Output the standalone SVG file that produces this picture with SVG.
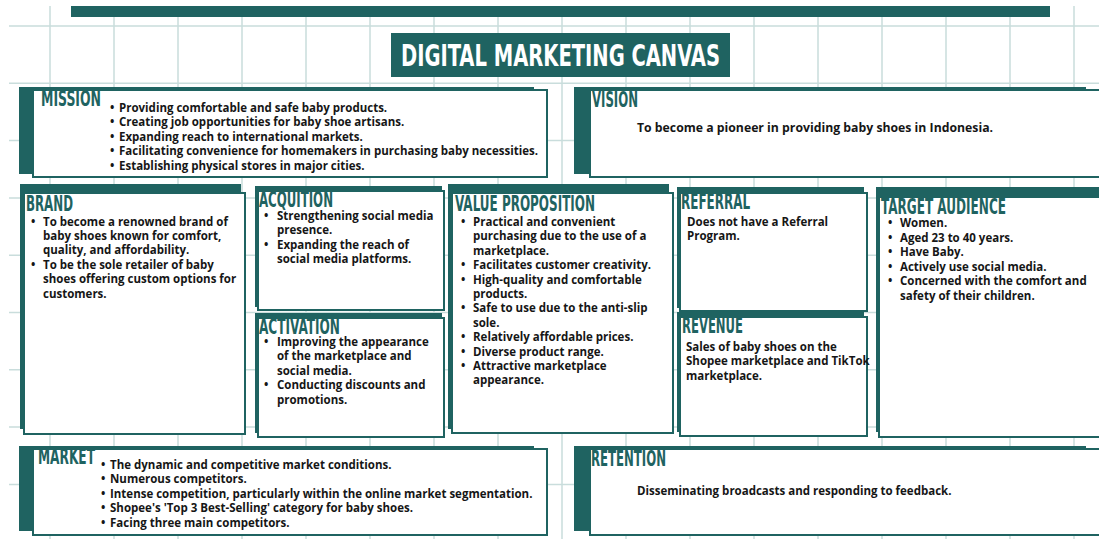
<svg xmlns="http://www.w3.org/2000/svg" width="1099" height="539" viewBox="0 0 1099 539">
<style>
.gl{stroke:#c9dddc;stroke-width:1.5;fill:none}
.sh{fill:#1f6361}
.bx{fill:#ffffff;stroke:#1f6361;stroke-width:2}
.hd{font-family:"Liberation Sans Narrow","DejaVu Sans Condensed",sans-serif;font-weight:bold;font-size:20.5px;fill:#1f6361}
.ti{font-family:"Liberation Sans Narrow","DejaVu Sans Condensed",sans-serif;font-weight:bold;font-size:31px;fill:#ffffff}
.tx{font-family:"Open Sans","DejaVu Sans",sans-serif;font-weight:700;font-size:11.5px;fill:#161616}
.big{font-size:12.25px}
</style>
<rect width="1099" height="539" fill="#ffffff"/>
<g id="grid" class="gl">
<path d="M50 6V539M114 6V539M178 6V539M242 6V539M306 6V539M370 6V539M434 6V539M498 6V539M562 6V539M626 6V539M690 6V539M754 6V539M818 6V539M882 6V539M946 6V539M1010 6V539M1074 6V539"/>
<path d="M9 26H1099M9 83.3H1099M9 140.6H1099M9 198H1099M9 255.2H1099M9 312.5H1099M9 369.8H1099M9 427H1099M9 484.4H1099"/>
</g>
<g id="header">
<rect class="sh" x="71" y="6" width="979" height="11"/>
<rect class="sh" x="391" y="33" width="339" height="44"/>
<text class="ti" x="401" y="66" textLength="319" lengthAdjust="spacingAndGlyphs">DIGITAL MARKETING CANVAS</text>
</g>
<g id="connectors"></g>
<g id="mission">
<rect class="sh" x="19" y="87" width="515" height="87"/>
<rect class="bx" x="33" y="90" width="514" height="87"/>
<text class="hd" x="41" y="106" textLength="60" lengthAdjust="spacingAndGlyphs">MISSION</text>
<text class="tx"><tspan x="110" y="112">•</tspan><tspan x="119" y="112">Providing comfortable and safe baby products.</tspan><tspan x="110" y="126.4">•</tspan><tspan x="119" y="126.4">Creating job opportunities for baby shoe artisans.</tspan><tspan x="110" y="140.8">•</tspan><tspan x="119" y="140.8">Expanding reach to international markets.</tspan><tspan x="110" y="155.2">•</tspan><tspan x="119" y="155.2">Facilitating convenience for homemakers in purchasing baby necessities.</tspan><tspan x="110" y="169.6">•</tspan><tspan x="119" y="169.6">Establishing physical stores in major cities.</tspan></text>
</g>
<g id="vision">
<rect class="sh" x="574" y="87" width="512" height="87"/>
<rect class="bx" x="590" y="90" width="520" height="87"/>
<text class="hd" x="592" y="107" textLength="46" lengthAdjust="spacingAndGlyphs">VISION</text>
<text class="tx big" x="637" y="132">To become a pioneer in providing baby shoes in Indonesia.</text>
</g>
<g id="brand">
<rect class="sh" x="20" y="184" width="221" height="245"/>
<rect class="bx" x="24" y="193" width="221" height="241"/>
<text class="hd" x="26" y="211" textLength="47" lengthAdjust="spacingAndGlyphs">BRAND</text>
<text class="tx"><tspan x="31" y="225.5">•</tspan><tspan x="43" y="225.5">To become a renowned brand of</tspan><tspan x="43" y="239.9">baby shoes known for comfort,</tspan><tspan x="43" y="254.3">quality, and affordability.</tspan><tspan x="31" y="268.7">•</tspan><tspan x="43" y="268.7">To be the sole retailer of baby</tspan><tspan x="43" y="283.1">shoes offering custom options for</tspan><tspan x="43" y="297.5">customers.</tspan></text>
</g>
<g id="acquisition">
<rect class="sh" x="255" y="186" width="187" height="121"/>
<rect class="bx" x="258" y="191" width="186" height="119"/>
<text class="hd" x="259" y="207" textLength="74" lengthAdjust="spacingAndGlyphs">ACQUITION</text>
<text class="tx"><tspan x="264" y="220">•</tspan><tspan x="277" y="220">Strengthening social media</tspan><tspan x="277" y="234.4">presence.</tspan><tspan x="264" y="248.8">•</tspan><tspan x="277" y="248.8">Expanding the reach of</tspan><tspan x="277" y="263.2">social media platforms.</tspan></text>
</g>
<g id="activation">
<rect class="sh" x="255" y="313" width="187" height="120"/>
<rect class="bx" x="258" y="318" width="186" height="119"/>
<text class="hd" x="259" y="334" textLength="81" lengthAdjust="spacingAndGlyphs">ACTIVATION</text>
<text class="tx"><tspan x="264" y="346">•</tspan><tspan x="277" y="346">Improving the appearance</tspan><tspan x="277" y="360.4">of the marketplace and</tspan><tspan x="277" y="374.8">social media.</tspan><tspan x="264" y="389.2">•</tspan><tspan x="277" y="389.2">Conducting discounts and</tspan><tspan x="277" y="403.6">promotions.</tspan></text>
</g>
<g id="value-proposition">
<rect class="sh" x="448" y="184" width="221" height="245"/>
<rect class="bx" x="452" y="193" width="221" height="240"/>
<text class="hd" x="455" y="211" textLength="140" lengthAdjust="spacingAndGlyphs">VALUE PROPOSITION</text>
<text class="tx"><tspan x="461" y="226">•</tspan><tspan x="473" y="226">Practical and convenient</tspan><tspan x="473" y="240.4">purchasing due to the use of a</tspan><tspan x="473" y="254.8">marketplace.</tspan><tspan x="461" y="269.2">•</tspan><tspan x="473" y="269.2">Facilitates customer creativity.</tspan><tspan x="461" y="283.6">•</tspan><tspan x="473" y="283.6">High-quality and comfortable</tspan><tspan x="473" y="298">products.</tspan><tspan x="461" y="312.4">•</tspan><tspan x="473" y="312.4">Safe to use due to the anti-slip</tspan><tspan x="473" y="326.8">sole.</tspan><tspan x="461" y="341.2">•</tspan><tspan x="473" y="341.2">Relatively affordable prices.</tspan><tspan x="461" y="355.6">•</tspan><tspan x="473" y="355.6">Diverse product range.</tspan><tspan x="461" y="370">•</tspan><tspan x="473" y="370">Attractive marketplace</tspan><tspan x="473" y="384.4">appearance.</tspan></text>
</g>
<g id="referral">
<rect class="sh" x="677" y="187" width="187" height="121"/>
<rect class="bx" x="680" y="193" width="187" height="118"/>
<text class="hd" x="681" y="209" textLength="69" lengthAdjust="spacingAndGlyphs">REFERRAL</text>
<text class="tx"><tspan x="687" y="226">Does not have a Referral</tspan><tspan x="687" y="240.4">Program.</tspan></text>
</g>
<g id="revenue">
<rect class="sh" x="677" y="312" width="187" height="120"/>
<rect class="bx" x="680" y="317" width="187" height="119"/>
<text class="hd" x="682" y="333" textLength="61" lengthAdjust="spacingAndGlyphs">REVENUE</text>
<text class="tx"><tspan x="686" y="351">Sales of baby shoes on the</tspan><tspan x="686" y="365.4">Shopee marketplace and TikTok</tspan><tspan x="686" y="379.8">marketplace.</tspan></text>
</g>
<g id="target-audience">
<rect class="sh" x="876" y="187" width="240" height="245"/>
<rect class="bx" x="879" y="197" width="240" height="240"/>
<text class="hd" x="881" y="214" textLength="125" lengthAdjust="spacingAndGlyphs">TARGET AUDIENCE</text>
<text class="tx"><tspan x="888" y="227">•</tspan><tspan x="900" y="227">Women.</tspan><tspan x="888" y="241.5">•</tspan><tspan x="900" y="241.5">Aged 23 to 40 years.</tspan><tspan x="888" y="256">•</tspan><tspan x="900" y="256">Have Baby.</tspan><tspan x="888" y="270.5">•</tspan><tspan x="900" y="270.5">Actively use social media.</tspan><tspan x="888" y="285">•</tspan><tspan x="900" y="285">Concerned with the comfort and</tspan><tspan x="900" y="299.5">safety of their children.</tspan></text>
</g>
<g id="market">
<rect class="sh" x="19" y="446" width="515" height="85"/>
<rect class="bx" x="33" y="449" width="514" height="86"/>
<text class="hd" x="38" y="464" textLength="57" lengthAdjust="spacingAndGlyphs">MARKET</text>
<text class="tx"><tspan x="101" y="469">•</tspan><tspan x="110" y="469">The dynamic and competitive market conditions.</tspan><tspan x="101" y="483.4">•</tspan><tspan x="110" y="483.4">Numerous competitors.</tspan><tspan x="101" y="497.8">•</tspan><tspan x="110" y="497.8">Intense competition, particularly within the online market segmentation.</tspan><tspan x="101" y="512.2">•</tspan><tspan x="110" y="512.2">Shopee's 'Top 3 Best-Selling' category for baby shoes.</tspan><tspan x="101" y="526.6">•</tspan><tspan x="110" y="526.6">Facing three main competitors.</tspan></text>
</g>
<g id="retention">
<rect class="sh" x="574" y="446" width="512" height="85"/>
<rect class="bx" x="590" y="449" width="520" height="86"/>
<text class="hd" x="591" y="466" textLength="75" lengthAdjust="spacingAndGlyphs">RETENTION</text>
<text class="tx" x="637" y="495">Disseminating broadcasts and responding to feedback.</text>
</g>
</svg>
